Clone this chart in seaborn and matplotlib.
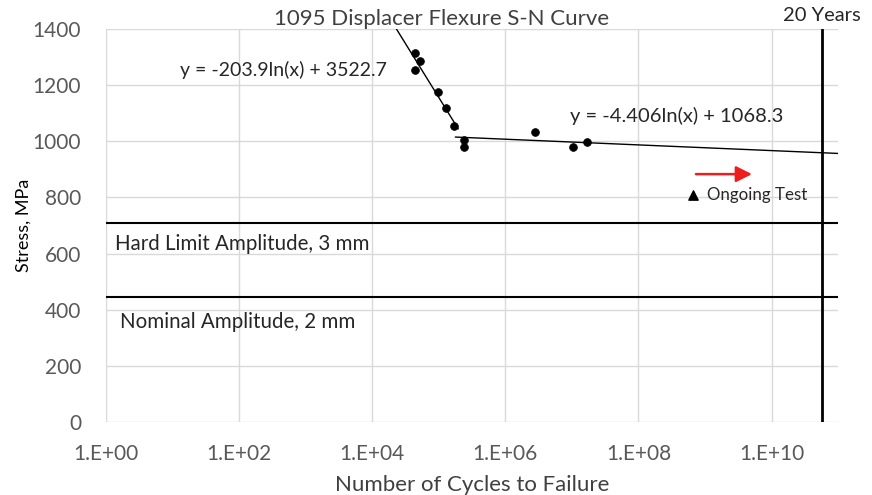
import numpy as np
import pandas as pd
import matplotlib
matplotlib.use("Agg")
import matplotlib.pyplot as plt
import seaborn as sns

# test data (first 6 points = steep branch)
cycles = [4.33e4, 5.14e4, 4.33e4, 9.6e4, 1.28e5, 1.71e5, 2.36e5, 2.36e5, 2.83e6, 1.04e7, 1.71e7]
stress = [1313, 1287, 1254, 1177, 1118, 1054, 1005, 979, 1032, 979, 996]
n_steep = 6

# ongoing test point and the arrow end
ongoing_cycles = [6.65e8]
ongoing_stress = [809]
arrow_end_cycles = 5.6e9
arrow_stress = 883

# flat branch trend shown on the chart: y = a*ln(x) + b
flat_a, flat_b = -4.406, 1068.3
steep_range = [1.5e4, 1.96e5]
flat_range = [1.77e5, 1e11]

hard_limit = 709
nominal = 445
twenty_years = 5.8e10

xtick_vals = [1e0, 1e2, 1e4, 1e6, 1e8, 1e10]
xtick_labels = ["1.E+00", "1.E+02", "1.E+04", "1.E+06", "1.E+08", "1.E+10"]
ytick_vals = [0, 200, 400, 600, 800, 1000, 1200, 1400]

sns.set_theme(style="white")
plt.rcParams['font.family'] = ['Lato', 'DejaVu Sans']

fig = plt.figure(figsize=(8.72, 4.95), dpi=100)
ax = fig.add_axes([0.1216, 0.1475, 0.8395, 0.7939])

df = pd.DataFrame({"cycles": cycles, "stress": stress})

# steep trendline: log fit of the steep points
k, c = np.polyfit(np.log(cycles[:n_steep]), stress[:n_steep], 1)
xs = np.geomspace(steep_range[0], steep_range[1], 50)
ax.plot(xs, k * np.log(xs) + c, color="black", lw=1.0)
xf = np.geomspace(flat_range[0], flat_range[1], 50)
ax.plot(xf, flat_a * np.log(xf) + flat_b, color="black", lw=1.0)

sns.scatterplot(data=df, x="cycles", y="stress", ax=ax, color="black",
                s=32, edgecolor="black", zorder=5)
ax.scatter(ongoing_cycles, ongoing_stress, marker="^", color="black", s=45, zorder=5)

ax.axhline(hard_limit, color="black", lw=1.5)
ax.axhline(nominal, color="black", lw=1.5)
ax.axvline(twenty_years, color="black", lw=2)

ax.annotate("", xy=(arrow_end_cycles, arrow_stress), xytext=(ongoing_cycles[0], arrow_stress),
            arrowprops=dict(arrowstyle="-|>", color="#ee1c1c", lw=1.8, mutation_scale=24))

ax.set_xscale("log")
ax.set_xlim(1, 1e11)
ax.set_ylim(0, 1400)
ax.set_xticks(xtick_vals)
ax.set_xticklabels(xtick_labels)
ax.set_yticks(ytick_vals)
ax.minorticks_off()
ax.tick_params(axis="both", labelsize=15, colors="#595959", length=0)
ax.tick_params(axis="y", pad=18)
ax.tick_params(axis="x", pad=16)
ax.grid(True, color="#d9d9d9", lw=1)
for s in ax.spines.values():
    s.set_visible(False)

ax.set_xlabel("Number of Cycles to Failure", fontsize=16, color="#404040", labelpad=8)
ax.set_ylabel("Stress, MPa", fontsize=13, color="black", labelpad=1)
ax.set_title("1095 Displacer Flexure S-N Curve", fontsize=16, color="#404040",
             pad=3, x=0.458)

ax.text(13, 1254, "y = -203.9ln(x) + 3522.7", fontsize=14, va="center")
ax.text(9.5e6, 1090, "y = -4.406ln(x) + 1068.3", fontsize=14.5, va="center")
ax.text(1.37, 634, "Hard Limit Amplitude, 3 mm", fontsize=14.8, va="center")
ax.text(1.62, 356, "Nominal Amplitude, 2 mm", fontsize=14.8, va="center")
ax.annotate("Ongoing Test", xy=(ongoing_cycles[0], ongoing_stress[0]), xytext=(10, 0),
            textcoords="offset points", fontsize=12.2, va="center")
ax.text(twenty_years, 1.012, "20 Years", transform=ax.get_xaxis_transform(),
        fontsize=14.5, ha="center", va="bottom")

fig.savefig("out.png", dpi=100)
